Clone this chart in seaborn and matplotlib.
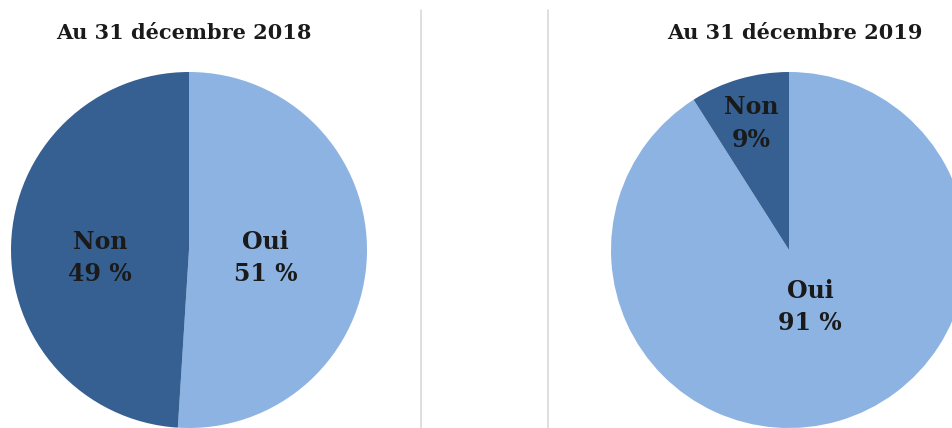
import matplotlib
matplotlib.use("Agg")
import matplotlib.pyplot as plt
import seaborn as sns
from matplotlib.lines import Line2D

# Data
titles = ["Au 31 décembre 2018", "Au 31 décembre 2019"]
categories = ["Oui", "Non"]
values_2018 = [51, 49]
values_2019 = [91, 9]
pct_labels_2018 = ["51 %", "49 %"]
pct_labels_2019 = ["91 %", "9%"]

sns.set_theme(style="white")
plt.rcParams["font.family"] = ["DejaVu Serif"]

colors = ["#8db3e2", "#366092"]

W, H = 953, 428
fig = plt.figure(figsize=(W / 100, H / 100), dpi=100)

# pie geometry in pixels (center x, center y from top, radius)
pies = [
    (189, 250, 178, values_2018, pct_labels_2018, titles[0], 184,
     {"Oui": (0.43, -0.045), "Non": (-0.50, -0.045)}),
    (789, 250, 178, values_2019, pct_labels_2019, titles[1], 795,
     {"Oui": (0.12, -0.32), "Non": (-0.21, 0.71)}),
]

for cx, cy, r, vals, pcts, title, tx, label_pos in pies:
    ax = fig.add_axes([(cx - r) / W, (H - cy - r) / H, 2 * r / W, 2 * r / H])
    ax.pie(vals, colors=colors, startangle=90, counterclock=False,
           wedgeprops={"linewidth": 0})
    ax.set_xlim(-1, 1)
    ax.set_ylim(-1, 1)
    ax.set_axis_off()
    for cat, pct in zip(categories, pcts):
        x, y = label_pos[cat]
        ax.text(x, y, f"{cat}\n{pct}", ha="center", va="center",
                fontsize=17, fontweight="bold", color="#1a1a1a",
                linespacing=1.45, clip_on=False)
    fig.text(tx / W, 1 - 33 / H, title, ha="center", va="center",
             fontsize=15, fontweight="bold", color="#1a1a1a")

# separator lines
for xpix in (421, 548):
    fig.add_artist(Line2D([xpix / W, xpix / W], [0, 1 - 10 / H],
                          color="#d9d9d9", linewidth=1.2))

fig.savefig("out.png", dpi=100, facecolor="white")
